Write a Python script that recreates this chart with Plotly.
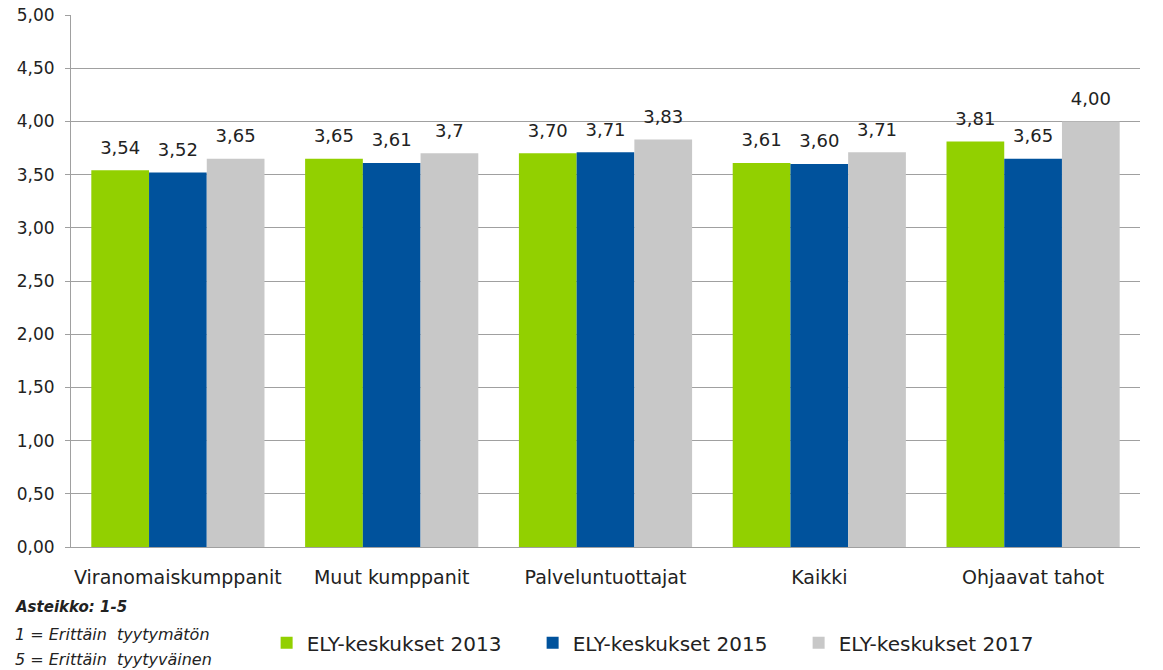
import plotly.graph_objects as go

categories = ["Viranomaiskumppanit", "Muut kumppanit", "Palveluntuottajat", "Kaikki", "Ohjaavat tahot"]
series_names = ["ELY-keskukset 2013", "ELY-keskukset 2015", "ELY-keskukset 2017"]
values_2013 = [3.54, 3.65, 3.70, 3.61, 3.81]
values_2015 = [3.52, 3.61, 3.71, 3.60, 3.65]
values_2017 = [3.65, 3.70, 3.83, 3.71, 4.00]
labels_2013 = ["3,54", "3,65", "3,70", "3,61", "3,81"]
labels_2015 = ["3,52", "3,61", "3,71", "3,60", "3,65"]
labels_2017 = ["3,65", "3,7", "3,83", "3,71", "4,00"]
colors = ["#92D000", "#00529C", "#C8C8C8"]
tick_vals = [0, 0.5, 1, 1.5, 2, 2.5, 3, 3.5, 4, 4.5, 5]

FONT = "DejaVu Sans"
TXT = "#222222"
GAP = 0.19
fig = go.Figure()
for i, (name, vals, col) in enumerate(zip(series_names, [values_2013, values_2015, values_2017], colors)):
    fig.add_trace(go.Bar(
        x=categories, y=vals, name=name, marker=dict(color=col, line=dict(width=0)),
        offsetgroup=str(i), alignmentgroup="a",
    ))
for i, (vals, labs) in enumerate(zip([values_2013, values_2015, values_2017],
                                     [labels_2013, labels_2015, labels_2017])):
    fig.add_trace(go.Scatter(
        x=categories, y=vals, text=labs, mode="markers+text", textposition="top center",
        marker=dict(size=18, color="rgba(0,0,0,0)"), showlegend=False, hoverinfo="skip",
        offsetgroup=str(i), alignmentgroup="a", cliponaxis=False,
        textfont=dict(family=FONT, size=18, color=TXT),
    ))

fig.update_layout(
    width=1163, height=670,
    margin=dict(l=71, r=23, t=15, b=123, autoexpand=False),
    plot_bgcolor="white", paper_bgcolor="white",
    barmode="group", bargap=GAP, bargroupgap=0,
    scattermode="group", scattergap=GAP,
    separators=",.",
    font=dict(family=FONT, size=14, color=TXT),
    showlegend=True,
    legend=dict(orientation="h", x=0.183, xanchor="left", y=-0.18, yanchor="middle",
                font=dict(family=FONT, size=20, color=TXT),
                itemwidth=30, traceorder="normal",
                entrywidth=221, entrywidthmode="pixels"),
)
fig.update_yaxes(range=[0, 5], tickvals=tick_vals, tickformat=".2f", automargin=False,
                 showgrid=True, gridcolor="#A0A0A0", gridwidth=1,
                 showline=True, linecolor="#A0A0A0", linewidth=1,
                 ticks="outside", ticklen=5, tickcolor="#A0A0A0", ticklabelstandoff=7,
                 tickfont=dict(family=FONT, size=17, color=TXT),
                 zeroline=False)
fig.update_xaxes(showline=True, linecolor="#A0A0A0", linewidth=1, automargin=False,
                 ticks="", ticklabelstandoff=13,
                 tickfont=dict(family=FONT, size=19, color=TXT))

notes = ["<b><i>Asteikko: 1-5</i></b>", "<i>1 = Erittäin  tyytymätön</i>", "<i>5 = Erittäin  tyytyväinen</i>"]
note_y = [-0.113, -0.165, -0.212]
note_size = [15, 16, 16]
for t, yy, s in zip(notes, note_y, note_size):
    fig.add_annotation(text=t, xref="paper", yref="paper",
                       x=-0.054, y=yy, xanchor="left", yanchor="middle", showarrow=False,
                       font=dict(family=FONT, size=s, color=TXT))

fig.write_html("out.html", config={"displayModeBar": False},
               post_script="document.body.style.margin='0';document.body.style.padding='0';")
